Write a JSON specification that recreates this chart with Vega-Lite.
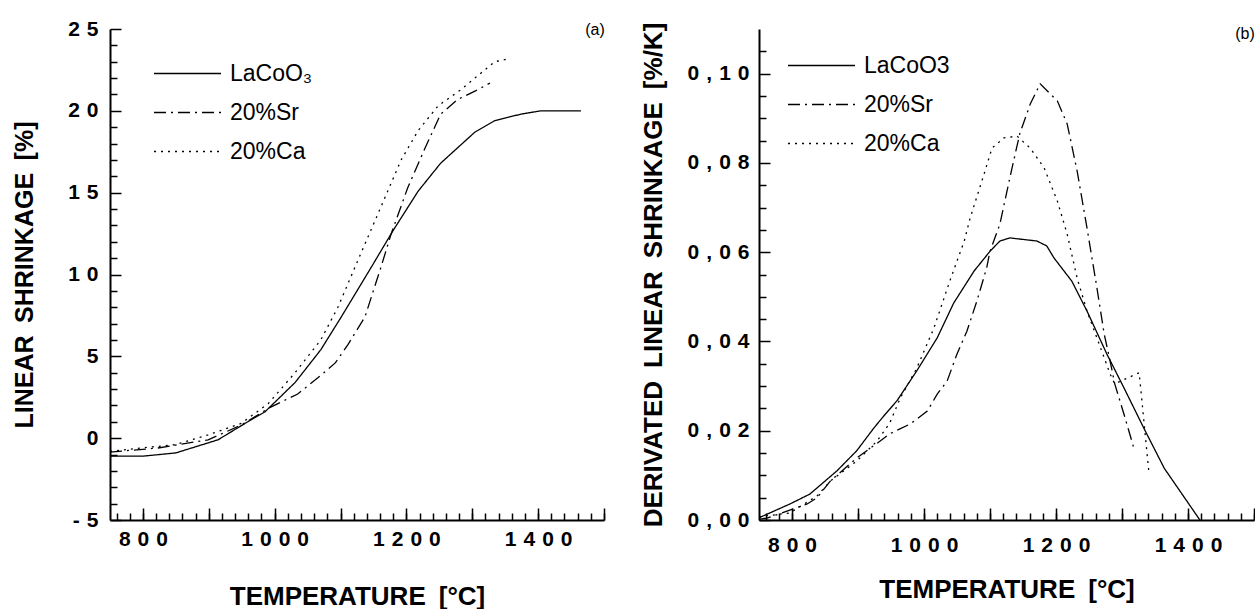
{
  "$schema": "https://vega.github.io/schema/vega-lite/v6.json",
  "background": "white",
  "padding": {"left": 12, "top": 18, "right": 0, "bottom": 0},
  "spacing": 35,
  "resolve": {"scale": {"strokeDash": "independent"}, "legend": {"strokeDash": "independent"}},
  "config": {
    "view": {"stroke": null},
    "font": "Liberation Sans",
    "axis": {
      "grid": false,
      "domainColor": "black", "domainWidth": 2,
      "tickColor": "black", "tickWidth": 1.5,
      "labelColor": "black", "labelFont": "Liberation Sans", "labelFontWeight": "bold", "labelFontSize": 21,
      "titleColor": "black", "titleFont": "Liberation Sans", "titleFontWeight": "bold", "titleFontSize": 25
    },
    "legend": {
      "titleFontSize": 0,
      "labelFont": "Liberation Sans", "labelFontSize": 23, "labelColor": "black",
      "symbolType": "stroke", "symbolSize": 4489, "symbolStrokeWidth": 1.3, "symbolStrokeColor": "black",
      "padding": 0, "labelOffset": 8
    }
  },
  "datasets": {
    "a": [
      {"s":"LaCoO3","T":750,"v":-1.1},{"s":"LaCoO3","T":800,"v":-1.1},{"s":"LaCoO3","T":850,"v":-0.9},{"s":"LaCoO3","T":914,"v":-0.1},{"s":"LaCoO3","T":955,"v":0.9},{"s":"LaCoO3","T":985,"v":1.6},{"s":"LaCoO3","T":1031,"v":3.4},{"s":"LaCoO3","T":1070,"v":5.4},{"s":"LaCoO3","T":1101,"v":7.4},{"s":"LaCoO3","T":1146,"v":10.4},{"s":"LaCoO3","T":1180,"v":12.7},{"s":"LaCoO3","T":1218,"v":15.1},{"s":"LaCoO3","T":1252,"v":16.8},{"s":"LaCoO3","T":1304,"v":18.7},{"s":"LaCoO3","T":1334,"v":19.4},{"s":"LaCoO3","T":1374,"v":19.8},{"s":"LaCoO3","T":1404,"v":20.0},{"s":"LaCoO3","T":1465,"v":20.0},
      {"s":"20%Sr","T":750,"v":-0.85},{"s":"20%Sr","T":823,"v":-0.6},{"s":"20%Sr","T":899,"v":-0.1},{"s":"20%Sr","T":949,"v":0.8},{"s":"20%Sr","T":994,"v":1.9},{"s":"20%Sr","T":1035,"v":2.7},{"s":"20%Sr","T":1066,"v":3.7},{"s":"20%Sr","T":1092,"v":4.6},{"s":"20%Sr","T":1111,"v":5.7},{"s":"20%Sr","T":1137,"v":7.4},{"s":"20%Sr","T":1161,"v":10.4},{"s":"20%Sr","T":1177,"v":12.5},{"s":"20%Sr","T":1202,"v":15.3},{"s":"20%Sr","T":1228,"v":17.7},{"s":"20%Sr","T":1252,"v":19.8},{"s":"20%Sr","T":1278,"v":20.7},{"s":"20%Sr","T":1304,"v":21.2},{"s":"20%Sr","T":1327,"v":21.7},
      {"s":"20%Ca","T":750,"v":-0.8},{"s":"20%Ca","T":797,"v":-0.6},{"s":"20%Ca","T":849,"v":-0.4},{"s":"20%Ca","T":899,"v":0.2},{"s":"20%Ca","T":949,"v":0.9},{"s":"20%Ca","T":990,"v":2.1},{"s":"20%Ca","T":1031,"v":4.0},{"s":"20%Ca","T":1070,"v":6.0},{"s":"20%Ca","T":1096,"v":8.0},{"s":"20%Ca","T":1131,"v":11.3},{"s":"20%Ca","T":1161,"v":14.1},{"s":"20%Ca","T":1192,"v":17.0},{"s":"20%Ca","T":1218,"v":18.8},{"s":"20%Ca","T":1248,"v":20.3},{"s":"20%Ca","T":1283,"v":21.3},{"s":"20%Ca","T":1313,"v":22.3},{"s":"20%Ca","T":1334,"v":23.0},{"s":"20%Ca","T":1357,"v":23.2}
    ],
    "b": [
      {"s":"LaCoO3","T":750,"v":0.0005},{"s":"LaCoO3","T":797,"v":0.0036},{"s":"LaCoO3","T":827,"v":0.0058},{"s":"LaCoO3","T":868,"v":0.011},{"s":"LaCoO3","T":898,"v":0.0155},{"s":"LaCoO3","T":924,"v":0.0206},{"s":"LaCoO3","T":939,"v":0.0233},{"s":"LaCoO3","T":959,"v":0.0267},{"s":"LaCoO3","T":989,"v":0.0334},{"s":"LaCoO3","T":1020,"v":0.0408},{"s":"LaCoO3","T":1045,"v":0.0486},{"s":"LaCoO3","T":1076,"v":0.0558},{"s":"LaCoO3","T":1100,"v":0.0602},{"s":"LaCoO3","T":1115,"v":0.0625},{"s":"LaCoO3","T":1130,"v":0.0632},{"s":"LaCoO3","T":1171,"v":0.0625},{"s":"LaCoO3","T":1186,"v":0.0614},{"s":"LaCoO3","T":1197,"v":0.0587},{"s":"LaCoO3","T":1224,"v":0.0535},{"s":"LaCoO3","T":1247,"v":0.0468},{"s":"LaCoO3","T":1277,"v":0.0372},{"s":"LaCoO3","T":1303,"v":0.0296},{"s":"LaCoO3","T":1333,"v":0.0206},{"s":"LaCoO3","T":1364,"v":0.0116},{"s":"LaCoO3","T":1418,"v":0.0},
      {"s":"20%Sr","T":750,"v":0.0002},{"s":"20%Sr","T":762,"v":0.0004},{"s":"20%Sr","T":823,"v":0.0036},{"s":"20%Sr","T":838,"v":0.005},{"s":"20%Sr","T":858,"v":0.0087},{"s":"20%Sr","T":898,"v":0.0139},{"s":"20%Sr","T":929,"v":0.0172},{"s":"20%Sr","T":948,"v":0.0193},{"s":"20%Sr","T":979,"v":0.0215},{"s":"20%Sr","T":1005,"v":0.0244},{"s":"20%Sr","T":1020,"v":0.0282},{"s":"20%Sr","T":1035,"v":0.0311},{"s":"20%Sr","T":1050,"v":0.0372},{"s":"20%Sr","T":1065,"v":0.0423},{"s":"20%Sr","T":1080,"v":0.049},{"s":"20%Sr","T":1095,"v":0.0565},{"s":"20%Sr","T":1100,"v":0.0602},{"s":"20%Sr","T":1115,"v":0.0663},{"s":"20%Sr","T":1130,"v":0.0766},{"s":"20%Sr","T":1145,"v":0.0865},{"s":"20%Sr","T":1161,"v":0.0932},{"s":"20%Sr","T":1176,"v":0.0977},{"s":"20%Sr","T":1202,"v":0.0939},{"s":"20%Sr","T":1217,"v":0.0887},{"s":"20%Sr","T":1232,"v":0.0782},{"s":"20%Sr","T":1247,"v":0.0654},{"s":"20%Sr","T":1262,"v":0.052},{"s":"20%Sr","T":1273,"v":0.0417},{"s":"20%Sr","T":1282,"v":0.0356},{"s":"20%Sr","T":1289,"v":0.0305},{"s":"20%Sr","T":1303,"v":0.0237},{"s":"20%Sr","T":1318,"v":0.0161},
      {"s":"20%Ca","T":750,"v":0.0007},{"s":"20%Ca","T":797,"v":0.0016},{"s":"20%Ca","T":838,"v":0.0054},{"s":"20%Ca","T":858,"v":0.0087},{"s":"20%Ca","T":898,"v":0.0132},{"s":"20%Ca","T":929,"v":0.0177},{"s":"20%Ca","T":948,"v":0.0217},{"s":"20%Ca","T":964,"v":0.0273},{"s":"20%Ca","T":989,"v":0.034},{"s":"20%Ca","T":1015,"v":0.043},{"s":"20%Ca","T":1039,"v":0.0535},{"s":"20%Ca","T":1061,"v":0.0625},{"s":"20%Ca","T":1070,"v":0.0677},{"s":"20%Ca","T":1091,"v":0.0775},{"s":"20%Ca","T":1103,"v":0.0833},{"s":"20%Ca","T":1121,"v":0.0856},{"s":"20%Ca","T":1141,"v":0.086},{"s":"20%Ca","T":1161,"v":0.0833},{"s":"20%Ca","T":1182,"v":0.0789},{"s":"20%Ca","T":1202,"v":0.0715},{"s":"20%Ca","T":1217,"v":0.064},{"s":"20%Ca","T":1232,"v":0.0542},{"s":"20%Ca","T":1247,"v":0.0468},{"s":"20%Ca","T":1262,"v":0.0408},{"s":"20%Ca","T":1282,"v":0.0327},{"s":"20%Ca","T":1289,"v":0.0305},{"s":"20%Ca","T":1326,"v":0.033},{"s":"20%Ca","T":1341,"v":0.0103}
    ]
  },
  "hconcat": [
    {
      "width": 494, "height": 491,
      "title": {"text": "(a)", "anchor": "end", "fontSize": 16, "fontWeight": "normal", "baseline": "middle", "offset": -28, "color": "black", "font": "Liberation Sans"},
      "data": {"name": "a"},
      "layer": [
        {
          "mark": {"type": "line", "color": "black", "strokeWidth": 1.3},
          "encoding": {
            "x": {"field": "T", "type": "quantitative", "scale": {"domain": [750, 1500], "nice": false, "zero": false},
              "axis": {"orient": "bottom", "values": [800, 900, 1000, 1100, 1200, 1300, 1400, 1500], "tickSize": -12, "labelPadding": 20,
                "labelExpr": "datum.value % 200 == 0 ? join(split(toString(datum.value), ''), '\u2004') : ''",
                "title": "TEMPERATURE\u2002[°C]", "titleFontSize": 26, "titlePadding": 34}},
            "y": {"field": "v", "type": "quantitative", "scale": {"domain": [-5, 25], "nice": false, "zero": false},
              "axis": {"orient": "left", "values": [-5, 0, 5, 10, 15, 20, 25], "tickSize": -11, "labelPadding": 23,
                "labelExpr": "join(split(toString(datum.value), ''), '\u2004')",
                "title": "LINEAR\u2002SHRINKAGE\u2002[%]", "titlePadding": 30}},
            "strokeDash": {"field": "s", "type": "nominal",
              "scale": {"domain": ["LaCoO3", "20%Sr", "20%Ca"], "range": [[1, 0], [12, 5, 2, 5], [2, 5]]},
              "legend": {"orient": "none", "legendX": 43, "legendY": 25, "title": null, "clipHeight": 39, "rowPadding": 0,
                "labelExpr": "datum.label == 'LaCoO3' ? 'LaCoO₃' : datum.label"}}
          }
        },
        {
          "mark": {"type": "line", "opacity": 0},
          "encoding": {
            "x": {"field": "T", "type": "quantitative",
              "axis": {"orient": "bottom", "values": [760,780,800,820,840,860,880,900,920,940,960,980,1000,1020,1040,1060,1080,1100,1120,1140,1160,1180,1200,1220,1240,1260,1280,1300,1320,1340,1360,1380,1400,1420,1440,1460,1480,1500], "tickSize": -7, "labels": false, "domain": false, "title": null}},
            "y": {"field": "v", "type": "quantitative",
              "axis": {"orient": "left", "values": [-4,-3,-2,-1,1,2,3,4,6,7,8,9,11,12,13,14,16,17,18,19,21,22,23,24], "tickSize": -7, "labels": false, "domain": false, "title": null}}
          }
        }
      ],
      "resolve": {"axis": {"x": "independent", "y": "independent"}}
    },
    {
      "width": 495, "height": 491,
      "title": {"text": "(b)", "anchor": "end", "fontSize": 16, "fontWeight": "normal", "baseline": "middle", "offset": -28, "color": "black", "font": "Liberation Sans"},
      "data": {"name": "b"},
      "layer": [
        {
          "mark": {"type": "line", "color": "black", "strokeWidth": 1.3},
          "encoding": {
            "x": {"field": "T", "type": "quantitative", "scale": {"domain": [750, 1500], "nice": false, "zero": false},
              "axis": {"orient": "bottom", "values": [800, 900, 1000, 1100, 1200, 1300, 1400, 1500], "tickSize": -12, "labelPadding": 26,
                "labelExpr": "datum.value % 200 == 0 ? join(split(toString(datum.value), ''), '\u2004') : ''",
                "title": "TEMPERATURE\u2002[°C]", "titleFontSize": 26, "titlePadding": 21}},
            "y": {"field": "v", "type": "quantitative", "scale": {"domain": [0, 0.11], "nice": false, "zero": false},
              "axis": {"orient": "left", "values": [0, 0.02, 0.04, 0.06, 0.08, 0.1], "tickSize": -11, "labelPadding": 21,
                "labelExpr": "join(split(replace(format(datum.value, '.2f'), '.', ','), ''), '\u2004')",
                "title": "DERIVATED\u2002LINEAR\u2002SHRINKAGE\u2002[%/K]", "titleFontSize": 26, "titlePadding": 21}},
            "strokeDash": {"field": "s", "type": "nominal",
              "scale": {"domain": ["LaCoO3", "20%Sr", "20%Ca"], "range": [[1, 0], [12, 5, 2, 5], [2, 5]]},
              "legend": {"orient": "none", "legendX": 28, "legendY": 17, "title": null, "clipHeight": 39, "rowPadding": 0}}
          }
        },
        {
          "mark": {"type": "line", "opacity": 0},
          "encoding": {
            "x": {"field": "T", "type": "quantitative",
              "axis": {"orient": "bottom", "values": [760,780,800,820,840,860,880,900,920,940,960,980,1000,1020,1040,1060,1080,1100,1120,1140,1160,1180,1200,1220,1240,1260,1280,1300,1320,1340,1360,1380,1400,1420,1440,1460,1480,1500], "tickSize": -7, "labels": false, "domain": false, "title": null}},
            "y": {"field": "v", "type": "quantitative",
              "axis": {"orient": "left", "values": [0.005, 0.01, 0.015, 0.025, 0.03, 0.035, 0.045, 0.05, 0.055, 0.065, 0.07, 0.075, 0.085, 0.09, 0.095, 0.105], "tickSize": -7, "labels": false, "domain": false, "title": null}}
          }
        }
      ],
      "resolve": {"axis": {"x": "independent", "y": "independent"}}
    }
  ]
}
